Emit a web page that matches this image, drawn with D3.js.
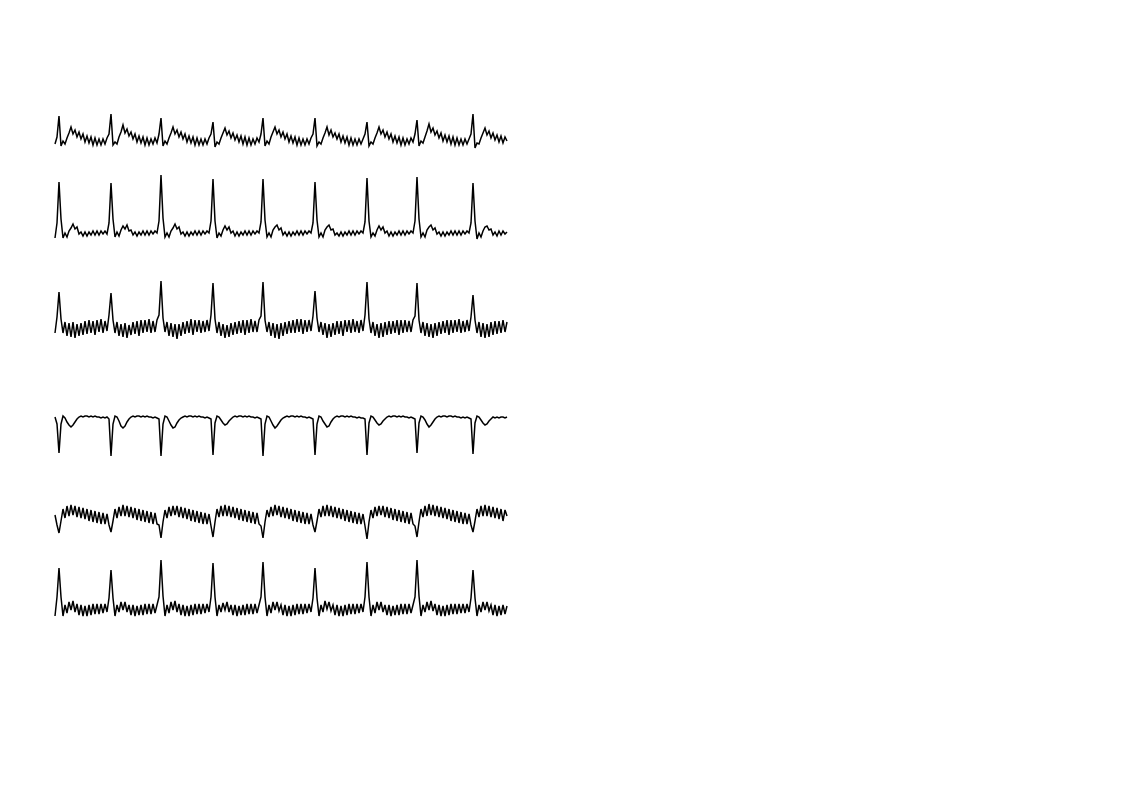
<!DOCTYPE html>
<html><head><meta charset="utf-8">
<script src="https://cdn.jsdelivr.net/npm/d3@7"></script>
<style>html,body{margin:0;padding:0;background:#fff;}</style>
</head><body>
<script>
// Six ECG leads, one sample every 2 px, amplitudes in display units (offset from each lead's baseline, up positive)
const lead1 = [-4,3,24,-6,-1,-4,2,7,13,6,10,3,8,1,6,-2,4,-3,3,-5,2,-5,1,-5,1,-4,2,6,
 26,-5,-2,-4,3,8,15,7,11,4,8,1,6,-2,4,-3,3,-5,2,-5,1,-4,2,-3,6,
 22,-6,-1,-4,2,7,13,6,10,3,8,1,6,-2,4,-3,3,-5,2,-5,1,-5,1,-4,2,6,
 18,-7,-2,-4,2,7,12,5,9,2,7,0,5,-2,4,-4,3,-5,2,-5,1,-4,2,-2,6,
 22,-6,-1,-4,3,8,13,6,10,3,8,1,6,-2,4,-3,3,-5,2,-5,1,-5,1,-4,2,6,
 22,-6,-2,-4,2,7,13,5,10,3,7,1,6,-2,4,-3,3,-5,2,-5,1,-5,1,-4,1,6,
 18,-6,-2,-4,2,7,13,6,10,3,8,1,6,-2,4,-3,3,-5,2,-5,1,-4,2,-2,6,
 20,-6,-1,-3,3,9,16,8,12,5,9,2,7,-1,5,-2,4,-4,3,-5,2,-5,1,-5,1,-4,1,6,
 26,-8,-3,-4,2,7,12,5,9,2,7,0,5,-2,4,-3,3,-1];
const lead2 = [-5,10,51,14,-5,0,-4,2,5,9,4,6,-1,1,-3,1,-3,1,-2,2,-2,2,-2,2,-1,2,-1,10,
 50,14,-4,1,-3,3,7,4,8,2,3,-2,1,-3,1,-2,2,-2,2,-2,2,-1,2,0,12,
 58,15,-4,0,-4,2,5,9,4,6,-1,1,-3,1,-3,1,-2,2,-2,2,-2,2,-1,2,0,12,
 54,12,-5,0,-3,3,7,3,6,0,2,-3,1,-3,1,-2,2,-2,2,-2,2,-1,2,0,11,
 54,13,-4,0,-4,3,6,8,3,5,-2,1,-3,1,-3,1,-2,2,-2,2,-2,2,-1,2,0,10,
 51,13,-4,0,-4,3,6,8,3,4,-2,0,-3,1,-3,1,-2,2,-2,2,-2,2,-1,2,0,11,
 55,12,-4,0,-3,3,7,3,6,0,2,-3,1,-3,1,-2,2,-2,2,-2,2,-1,2,0,12,
 56,14,-4,0,-4,3,6,8,3,5,-1,1,-3,1,-3,1,-2,2,-2,2,-2,2,-2,2,-1,2,0,10,
 50,12,-6,0,-4,2,6,7,3,4,-2,1,-3,2,-2,2,-1,1];
const lead3 = [-6,10,35,8,-6,5,-9,4,-10,5,-11,3,-9,4,-8,6,-7,7,-6,6,-8,7,-5,8,-6,6,-4,12,
 34,7,-6,5,-9,3,-10,4,-11,2,-8,5,-7,6,-9,7,-6,7,-5,8,-6,6,-5,7,12,
 46,9,-5,5,-9,4,-10,3,-12,3,-9,5,-7,6,-6,8,-8,7,-5,7,-6,6,-5,7,-4,12,
 44,8,-6,5,-9,3,-11,2,-10,4,-8,5,-7,6,-6,7,-8,7,-6,8,-5,6,-5,7,11,
 45,7,-5,5,-9,4,-11,3,-12,4,-9,5,-7,6,-6,7,-6,8,-5,8,-7,7,-5,7,-4,11,
 36,9,-5,5,-8,4,-11,3,-10,4,-8,6,-7,6,-9,7,-5,7,-6,8,-5,6,-6,7,-4,12,
 45,8,-6,5,-9,3,-11,4,-10,5,-8,6,-7,6,-6,7,-8,7,-6,7,-5,6,-5,7,11,
 44,7,-6,5,-9,4,-10,3,-11,4,-9,5,-7,6,-6,7,-8,7,-6,7,-5,8,-6,6,-5,7,-4,10,
 32,7,-6,5,-10,4,-11,3,-10,5,-8,6,-7,6,-6,7,-5,5];
const lead4 = [1,-6,-35,-6,2,0,-4,-7,-9,-7,-4,-1,1,2,1,2,2,1,2,1,2,1,1,0,1,0,1,-1,
 -38,-6,2,1,-3,-8,-10,-8,-4,-1,1,2,1,2,2,1,2,1,2,1,1,0,1,0,-1,
 -38,-6,2,1,-3,-7,-10,-9,-5,-2,0,1,2,1,2,2,1,2,1,2,1,1,0,1,0,-1,
 -37,-5,2,1,-2,-5,-7,-6,-3,-1,1,2,1,2,2,1,2,1,2,1,1,0,1,0,-1,
 -38,-6,2,1,-3,-7,-10,-8,-5,-2,0,1,2,1,2,2,1,2,1,2,1,1,0,1,0,-1,
 -37,-6,2,1,-3,-6,-9,-8,-4,-1,1,2,1,2,2,1,2,1,2,1,1,0,1,0,0,-1,
 -37,-5,2,1,-2,-5,-7,-6,-3,-1,1,2,1,2,2,1,2,1,2,1,1,0,1,0,-1,
 -35,-5,2,1,-2,-6,-9,-7,-4,-1,1,2,1,2,2,1,2,2,1,2,1,1,0,1,0,1,0,-1,
 -36,-5,2,1,-2,-5,-7,-6,-3,-1,1,0,1,0,1,1,0,1];
const lead5 = [3,-7,-15,-3,9,0,12,2,13,3,12,1,11,0,10,-1,9,-3,8,-4,7,-5,6,-6,5,-6,4,-7,
 -14,-3,9,0,11,2,13,2,12,1,11,0,10,-2,9,-3,8,-4,7,-5,6,-6,5,-6,-7,
 -20,-4,8,0,11,2,12,3,12,1,11,0,10,-1,9,-3,8,-4,7,-5,6,-6,5,-6,4,-8,
 -19,-4,9,1,12,2,13,2,12,1,11,0,10,-2,9,-3,8,-4,7,-5,6,-6,5,-6,-8,
 -20,-4,8,1,11,2,13,3,12,1,11,0,10,-1,9,-3,8,-4,7,-5,6,-6,5,-6,4,-7,
 -14,-3,9,1,12,2,13,2,12,1,11,0,10,-1,9,-3,8,-4,7,-5,6,-6,5,-6,4,-8,
 -21,-4,8,0,11,2,12,3,12,1,11,0,10,-2,9,-3,8,-4,7,-5,6,-6,5,-6,-8,
 -19,-4,9,1,12,2,14,3,13,2,12,1,11,0,10,-1,9,-3,8,-4,7,-5,6,-6,5,-6,4,-7,
 -14,-3,9,1,12,2,13,2,12,1,11,0,10,-1,9,-3,8,2];
const lead6 = [-7,12,41,12,-7,4,-4,7,-1,8,-3,5,-6,4,-7,3,-7,4,-6,5,-5,5,-5,5,-4,5,-3,11,
 39,11,-7,4,-3,7,-1,7,-3,4,-6,4,-7,3,-6,4,-6,5,-5,5,-5,5,-4,4,12,
 49,13,-7,4,-4,7,-1,8,-3,5,-6,4,-7,3,-7,4,-6,5,-5,5,-5,5,-4,5,-3,12,
 46,12,-7,4,-3,6,-1,7,-3,4,-6,4,-7,3,-6,4,-6,5,-5,5,-5,5,-4,4,12,
 47,12,-7,4,-4,7,-1,7,-2,4,-6,4,-7,3,-7,4,-6,5,-5,5,-5,5,-4,5,-3,11,
 41,11,-7,4,-3,8,0,7,-2,4,-6,4,-7,3,-7,4,-6,5,-5,5,-5,5,-4,5,-3,12,
 47,12,-7,4,-4,7,-1,7,-3,4,-6,4,-7,3,-6,4,-6,5,-5,5,-5,5,-4,4,12,
 49,13,-7,4,-3,7,-1,8,-2,5,-6,4,-7,3,-7,4,-6,5,-5,5,-5,5,-4,5,-4,5,-3,11,
 39,11,-7,4,-3,7,-1,7,-2,4,-6,4,-7,3,-6,4,-5,3];

const leads = [lead1, lead2, lead3, lead4, lead5, lead6];
const baselines = [140, 233, 327, 418, 518, 609];

const W = 1122, H = 793;
const svg = d3.select("body").append("svg").attr("width", W).attr("height", H)
  .style("background", "#fff");

leads.forEach((data, k) => {
  const x = d3.scaleLinear().domain([0, data.length - 1]).range([55, 507]);
  const b = baselines[k];
  const y = d3.scaleLinear().domain([-60, 60]).range([b + 60, b - 60]);
  const line = d3.line().x((d, i) => x(i)).y(d => y(d));
  svg.append("path").datum(data)
    .attr("d", line)
    .attr("fill", "none")
    .attr("stroke", "#000")
    .attr("stroke-width", 1.5)
    .attr("stroke-linejoin", "miter");
});
</script>
</body></html>
